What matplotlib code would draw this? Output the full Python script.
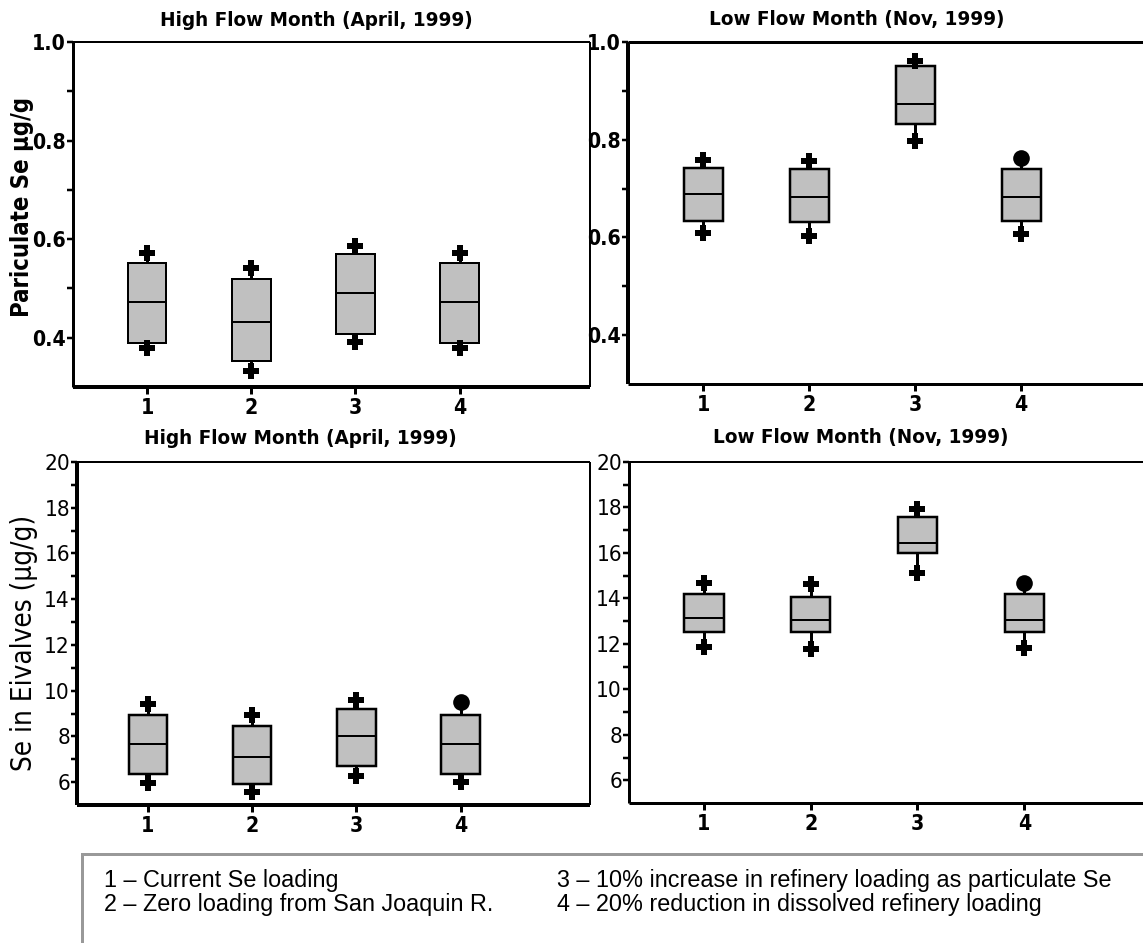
import matplotlib
matplotlib.use("Agg")
import matplotlib.pyplot as plt
from matplotlib import font_manager as fm
from matplotlib.patches import Rectangle

# ---------------- data ----------------
scenarios = [1, 2, 3, 4]
scenario_labels = ["1", "2", "3", "4"]

# Particulate Se (ug/g) - High flow month (April 1999)
part_high_lo_whisk = [0.380, 0.333, 0.392, 0.380]
part_high_q1 = [0.390, 0.353, 0.408, 0.390]
part_high_med = [0.473, 0.431, 0.490, 0.473]
part_high_q3 = [0.551, 0.520, 0.569, 0.551]
part_high_hi_whisk = [0.571, 0.541, 0.586, 0.571]

# Particulate Se (ug/g) - Low flow month (Nov 1999)
part_low_lo_whisk = [0.610, 0.602, 0.798, 0.608]
part_low_q1 = [0.633, 0.631, 0.833, 0.633]
part_low_med = [0.688, 0.682, 0.874, 0.682]
part_low_q3 = [0.743, 0.741, 0.951, 0.741]
part_low_hi_whisk = [0.759, 0.757, 0.961, 0.763]

# Se in bivalves (ug/g) - High flow month
biv_high_lo_whisk = [5.96, 5.56, 6.26, 6.00]
biv_high_q1 = [6.35, 5.91, 6.70, 6.35]
biv_high_med = [7.66, 7.09, 8.01, 7.66]
biv_high_q3 = [8.93, 8.45, 9.20, 8.93]
biv_high_hi_whisk = [9.41, 8.93, 9.59, 9.50]

# Se in bivalves (ug/g) - Low flow month
biv_low_lo_whisk = [11.88, 11.79, 15.10, 11.83]
biv_low_q1 = [12.53, 12.53, 15.98, 12.53]
biv_low_med = [13.14, 13.06, 16.42, 13.06]
biv_low_q3 = [14.19, 14.06, 17.60, 14.19]
biv_low_hi_whisk = [14.67, 14.63, 17.95, 14.67]

part_major = [0.4, 0.6, 0.8, 1.0]
part_major_labels = ["0.4", "0.6", "0.8", "1.0"]
part_minor = [0.5, 0.7, 0.9]
biv_major = [6, 8, 10, 12, 14, 16, 18, 20]
biv_major_labels = ["6", "8", "10", "12", "14", "16", "18", "20"]
biv_minor = [7, 9, 11, 13, 15, 17, 19]

title_high = "High Flow Month (April, 1999)"
title_low = "Low Flow Month (Nov, 1999)"
ylabel_part = "Pariculate Se \u00b5g/g"
ylabel_biv = "Se in Eivalves (\u00b5g/g)"
legend_left = ["1 \u2013 Current Se loading", "2 \u2013 Zero loading from San Joaquin R."]
legend_right = ["3 \u2013 10% increase in refinery loading as particulate Se",
                "4 \u2013 20% reduction in dissolved refinery loading"]

# ---------------- fonts ----------------
_fonts = [(f.name, str(f.stretch)) for f in fm.fontManager.ttflist]
_names = {n for n, _ in _fonts}
if "Liberation Sans Narrow" in _names:
    NARROW = dict(family=["Liberation Sans Narrow", "DejaVu Sans"])
    NSCALE = 1.0
elif any(n == "DejaVu Sans" and s in ("condensed", "semi-condensed") for n, s in _fonts):
    NARROW = dict(family=["DejaVu Sans"], stretch="condensed")
    NSCALE = 0.95
else:
    NARROW = dict(family=["Liberation Sans", "DejaVu Sans"])
    NSCALE = 0.9
REG = ["Liberation Sans", "DejaVu Sans"]

# ---------------- layout ----------------
W, H = 1143, 943
DPI = 100
fig = plt.figure(figsize=(W / DPI, H / DPI), dpi=DPI)
fig.patch.set_facecolor("white")
PX = 72.0 / DPI  # points per pixel


def rect(l, t, r, b):
    return [l / W, 1 - b / H, (r - l) / W, (b - t) / H]


def draw_boxes(ax, lo, q1, med, q3, hi, width, top_markers, lw_box):
    for i, x in enumerate(scenarios):
        ax.add_patch(Rectangle((x - width / 2, q1[i]), width, q3[i] - q1[i],
                               facecolor="#c0c0c0", edgecolor="black",
                               linewidth=lw_box * PX, zorder=3))
        ax.plot([x - width / 2, x + width / 2], [med[i], med[i]], color="black",
                lw=2 * PX, zorder=4, solid_capstyle="butt")
        ax.plot([x, x], [q3[i], hi[i]], color="black", lw=3 * PX, zorder=2)
        ax.plot([x, x], [q1[i], lo[i]], color="black", lw=3 * PX, zorder=2)
        ax.plot([x], [hi[i]], marker=top_markers[i], color="black", ms=12,
                mew=0, zorder=5)
        ax.plot([x], [lo[i]], marker="P", color="black", ms=12, mew=0, zorder=5)


def style_axes(ax, xlim, ylim, major, major_labels, minor, spine_w,
               ytick_bold, ytick_size):
    ax.set_xlim(*xlim)
    ax.set_ylim(*ylim)
    for side, w in spine_w.items():
        if w == 0:
            ax.spines[side].set_visible(False)
        else:
            ax.spines[side].set_linewidth(w * PX)
            ax.spines[side].set_capstyle("butt")
    ax.set_yticks(major)
    ax.set_yticklabels(major_labels)
    ax.set_yticks(minor, minor=True)
    ax.tick_params(axis="y", which="both", direction="out", length=4,
                   width=2.5 * PX, pad=1)
    ax.set_xticks(scenarios)
    ax.set_xticklabels(scenario_labels)
    ax.tick_params(axis="x", which="both", direction="out", length=5,
                   width=3 * PX, pad=3)
    for lab in ax.get_yticklabels():
        lab.update(NARROW)
        lab.set_fontweight("bold" if ytick_bold else "normal")
        lab.set_fontsize(ytick_size * NSCALE)
    for lab in ax.get_xticklabels():
        lab.update(NARROW)
        lab.set_fontweight("bold")
        lab.set_fontsize(16 * NSCALE)


# top-left
ax1 = fig.add_axes(rect(73, 42, 590, 387))
style_axes(ax1, (0.29, 5.25), (0.3, 1.0), part_major, part_major_labels, part_minor,
           {"left": 3, "bottom": 4, "top": 2, "right": 2}, True, 16)
draw_boxes(ax1, part_high_lo_whisk, part_high_q1, part_high_med, part_high_q3,
           part_high_hi_whisk, 0.37, ["P", "P", "P", "P"], 2)

# top-right
ax2 = fig.add_axes(rect(628, 42, 1160, 384))
style_axes(ax2, (0.29, 5.31), (0.3, 1.0), part_major, part_major_labels, part_minor,
           {"left": 4, "bottom": 3, "top": 3, "right": 0}, True, 16)
draw_boxes(ax2, part_low_lo_whisk, part_low_q1, part_low_med, part_low_q3,
           part_low_hi_whisk, 0.37, ["P", "P", "P", "o"], 2.5)

# bottom-left
ax3 = fig.add_axes(rect(77, 462, 590, 805))
style_axes(ax3, (0.32, 5.24), (5.0, 20.0), biv_major, biv_major_labels, biv_minor,
           {"left": 4, "bottom": 4, "top": 2, "right": 2}, False, 17)
draw_boxes(ax3, biv_high_lo_whisk, biv_high_q1, biv_high_med, biv_high_q3,
           biv_high_hi_whisk, 0.37, ["P", "P", "P", "o"], 2.5)

# bottom-right
ax4 = fig.add_axes(rect(629, 462, 1160, 803))
style_axes(ax4, (0.30, 5.27), (5.0, 20.0), biv_major, biv_major_labels, biv_minor,
           {"left": 3, "bottom": 3, "top": 2, "right": 0}, False, 17)
draw_boxes(ax4, biv_low_lo_whisk, biv_low_q1, biv_low_med, biv_low_q3,
           biv_low_hi_whisk, 0.37, ["P", "P", "P", "o"], 2.5)


def ftext(x, y, s, **kw):
    fig.text(x / W, 1 - y / H, s, **kw)


# titles
for (x, y, s) in [(316, 20, title_high), (857, 20, title_low),
                  (300, 438, title_high), (861, 438, title_low)]:
    ftext(x, y, s, ha="center", va="center", fontweight="bold",
          fontsize=15.5 * NSCALE, **NARROW)

# y labels
ftext(22, 207, ylabel_part, ha="center", va="center", rotation=90,
      fontweight="bold", fontsize=18 * NSCALE, **NARROW)
ftext(24, 643, ylabel_biv, ha="center", va="center", rotation=90,
      fontsize=21 * NSCALE, **NARROW)

# legend box
fig.patches.append(Rectangle((82 / W, -0.05), 1.1, (1 - 854 / H) + 0.05,
                             transform=fig.transFigure, facecolor="none",
                             edgecolor="#999999", linewidth=3 * PX))
ftext(104, 880, legend_left[0], ha="left", va="center", family=REG, fontsize=16.8)
ftext(104, 905, legend_left[1], ha="left", va="center", family=REG, fontsize=16.8)
ftext(557, 880, legend_right[0], ha="left", va="center", family=REG, fontsize=16.8)
ftext(557, 905, legend_right[1], ha="left", va="center", family=REG, fontsize=16.8)

fig.savefig("out.png", dpi=DPI)
